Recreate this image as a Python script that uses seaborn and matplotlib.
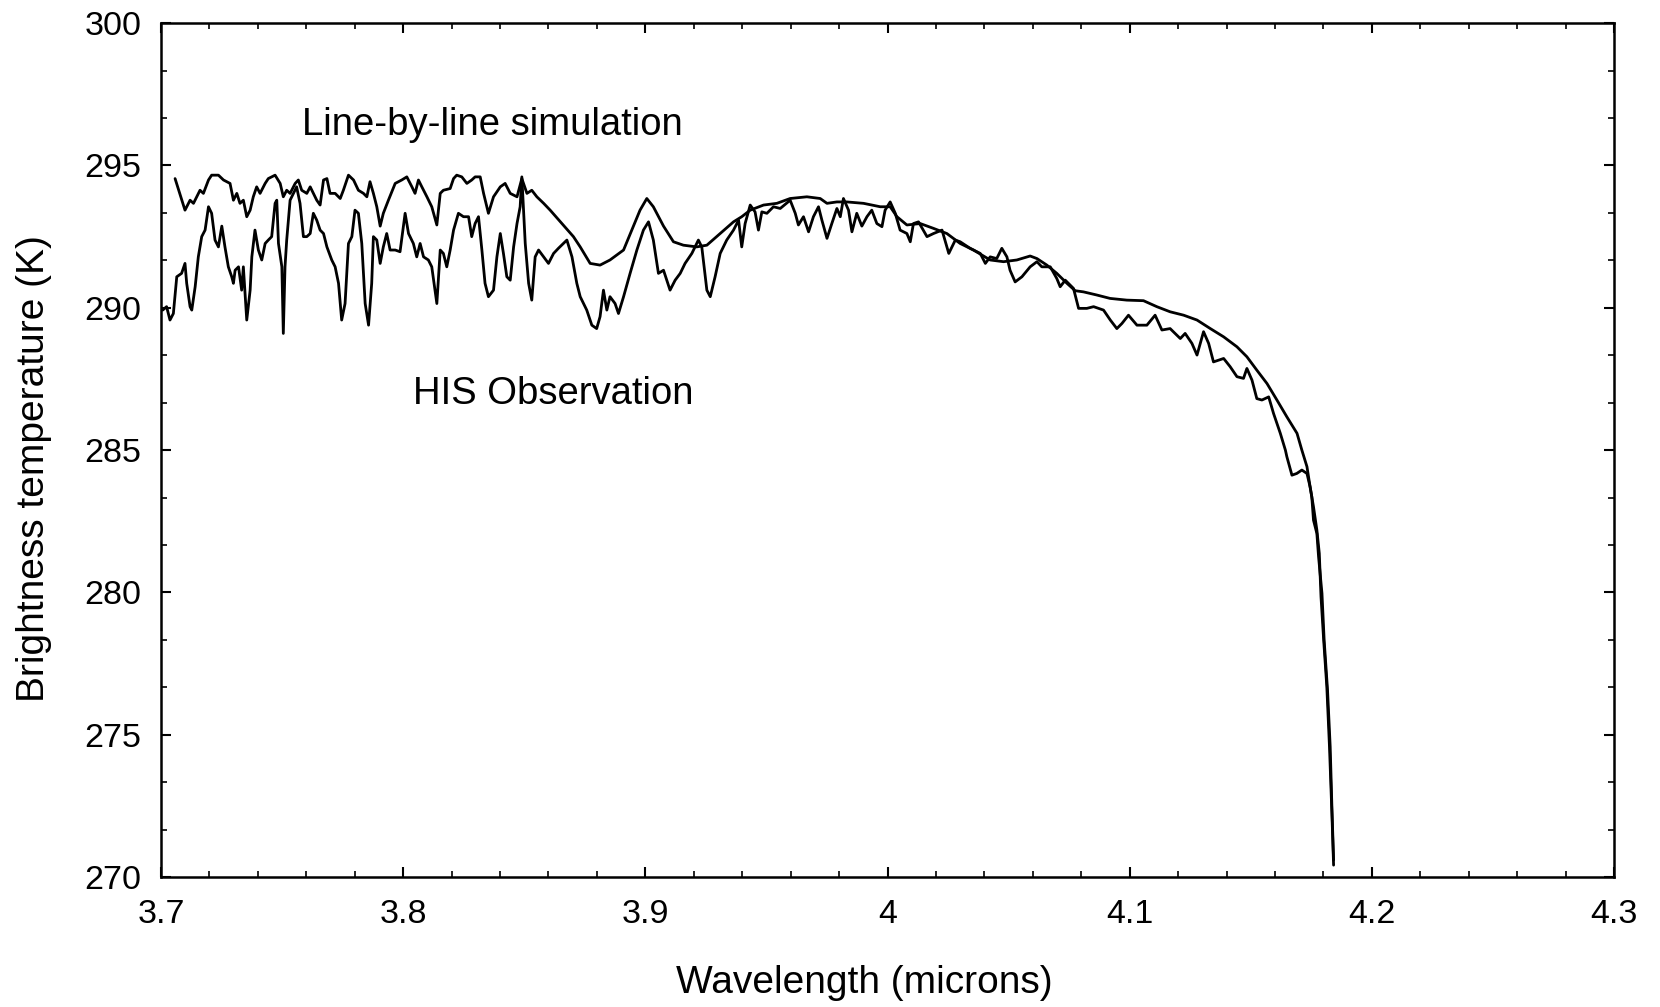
import seaborn as sns
import matplotlib.pyplot as plt
import pandas as pd
from matplotlib.ticker import MultipleLocator

# Line-by-line simulation
sim_wl = [3.7058, 3.7099, 3.7120, 3.7134, 3.7161, 3.7175, 3.7196, 3.7209, 3.7237, 3.7258,
          3.7285, 3.7299, 3.7313, 3.7326, 3.7340, 3.7354, 3.7368, 3.7381, 3.7395, 3.7409,
          3.7430, 3.7443, 3.7471, 3.7492, 3.7505, 3.7519, 3.7533, 3.7554, 3.7567, 3.7581,
          3.7602, 3.7616, 3.7643, 3.7657, 3.7671, 3.7685, 3.7698, 3.7719, 3.7740, 3.7753,
          3.7774, 3.7795, 3.7815, 3.7836, 3.7850, 3.7863, 3.7877, 3.7891, 3.7905, 3.7918,
          3.7939, 3.7967, 3.7994, 3.8015, 3.8036, 3.8049, 3.8063, 3.8077, 3.8098, 3.8118,
          3.8139, 3.8153, 3.8166, 3.8194, 3.8208, 3.8221, 3.8242, 3.8263, 3.8283, 3.8297,
          3.8318, 3.8332, 3.8352, 3.8373, 3.8401, 3.8421, 3.8442, 3.8470, 3.8490, 3.8511,
          3.8531, 3.8552, 3.8580, 3.8607,
          3.8703, 3.8731, 3.8772, 3.8813, 3.8854, 3.8910, 3.8951, 3.8978, 3.9006, 3.9033,
          3.9075, 3.9116, 3.9157, 3.9212, 3.9254, 3.9309, 3.9364, 3.9398, 3.9433, 3.9488,
          3.9543, 3.9598, 3.9667, 3.9722, 3.9750, 3.9791, 3.9832, 3.9901, 3.9970, 4.0011,
          4.0039, 4.0080, 4.0135, 4.0190, 4.0245, 4.0300, 4.0355,
          4.0424, 4.0479, 4.0534, 4.0589, 4.0617, 4.0658, 4.0699, 4.0741, 4.0775, 4.0809,
          4.0864, 4.0919, 4.0988, 4.1057, 4.1112, 4.1167, 4.1223, 4.1278, 4.1333, 4.1388,
          4.1443, 4.1484, 4.1525, 4.1567, 4.1608, 4.1649, 4.1691, 4.1711,
          4.1732, 4.1745, 4.1759, 4.1773, 4.1783, 4.1790, 4.1801, 4.1814, 4.1825, 4.1835,
          4.1842]
sim_bt = [294.54, 293.43, 293.78, 293.67, 294.13, 294.02, 294.49, 294.66, 294.66, 294.49,
          294.37, 293.78, 294.02, 293.67, 293.78, 293.20, 293.43, 293.90, 294.25, 294.02,
          294.37, 294.54, 294.66, 294.37, 293.90, 294.13, 294.02, 294.37, 294.49, 294.13,
          294.02, 294.25, 293.78, 293.61, 294.49, 294.54, 294.02, 294.02, 293.84, 294.13,
          294.66, 294.49, 294.13, 294.02, 293.90, 294.43, 294.02, 293.55, 292.87, 293.32,
          293.78, 294.37, 294.49, 294.60, 294.25, 294.02, 294.49, 294.25, 293.90, 293.55,
          292.91, 294.02, 294.13, 294.19, 294.54, 294.66, 294.60, 294.37, 294.49, 294.60,
          294.60, 294.02, 293.32, 293.90, 294.25, 294.37, 294.02, 293.90, 294.54, 294.02,
          294.13, 293.90, 293.67, 293.43,
          292.50, 292.14, 291.56, 291.50, 291.68, 292.03, 292.87, 293.43, 293.84, 293.55,
          292.87, 292.32, 292.20, 292.14, 292.20, 292.61, 293.02, 293.20, 293.43, 293.61,
          293.67, 293.84, 293.90, 293.84, 293.67, 293.72, 293.72, 293.67, 293.55, 293.55,
          293.20, 292.91, 292.96, 292.79, 292.61, 292.26, 292.03,
          291.68, 291.62, 291.68, 291.82, 291.73, 291.50, 291.21, 290.86, 290.60, 290.56,
          290.45, 290.33, 290.27, 290.25, 290.04, 289.86, 289.74, 289.57, 289.27, 288.98,
          288.63, 288.28, 287.81, 287.34, 286.76, 286.17, 285.59, 285.00,
          284.42, 283.71, 283.01, 282.19, 281.37, 279.85, 278.33, 276.69, 274.58, 272.24,
          270.42]

# HIS observation
his_wl = [3.7007, 3.7023, 3.7037, 3.7051, 3.7065, 3.7085, 3.7099, 3.7106, 3.7120, 3.7127,
          3.7141, 3.7154, 3.7168, 3.7182, 3.7196, 3.7209, 3.7223, 3.7237, 3.7251, 3.7264,
          3.7278, 3.7292, 3.7299, 3.7306, 3.7320, 3.7333, 3.7340, 3.7354, 3.7368, 3.7375,
          3.7388, 3.7402, 3.7416, 3.7430, 3.7443, 3.7457, 3.7471, 3.7478, 3.7485, 3.7499,
          3.7505, 3.7512, 3.7519, 3.7533, 3.7547, 3.7560, 3.7574, 3.7588, 3.7602, 3.7616,
          3.7629, 3.7643, 3.7657, 3.7671, 3.7685, 3.7705, 3.7719, 3.7733, 3.7746, 3.7760,
          3.7774, 3.7788, 3.7801, 3.7815, 3.7829, 3.7843, 3.7857, 3.7870, 3.7877, 3.7891,
          3.7905, 3.7918, 3.7932, 3.7946, 3.7967, 3.7987, 3.8008, 3.8022, 3.8042, 3.8056,
          3.8070, 3.8084, 3.8104, 3.8118, 3.8139, 3.8153, 3.8166, 3.8180, 3.8194, 3.8208,
          3.8228, 3.8249, 3.8270, 3.8283, 3.8297, 3.8311, 3.8325, 3.8338, 3.8352, 3.8373,
          3.8387, 3.8401, 3.8414, 3.8428, 3.8442, 3.8456, 3.8470, 3.8483, 3.8490, 3.8504,
          3.8518, 3.8531, 3.8545, 3.8559, 3.8580, 3.8600, 3.8621, 3.8641, 3.8676, 3.8697,
          3.8717, 3.8731,
          3.8758, 3.8779, 3.8799, 3.8813, 3.8827, 3.8841, 3.8854, 3.8875, 3.8889, 3.8910,
          3.8937, 3.8965, 3.8992, 3.9013, 3.9033, 3.9054, 3.9075, 3.9102, 3.9123, 3.9144,
          3.9164, 3.9192, 3.9219, 3.9233, 3.9254, 3.9268, 3.9288, 3.9309, 3.9336, 3.9364,
          3.9385, 3.9398, 3.9412, 3.9433, 3.9453, 3.9467, 3.9481, 3.9502, 3.9529, 3.9557,
          3.9598, 3.9619, 3.9632, 3.9653, 3.9674, 3.9694, 3.9715, 3.9729, 3.9750, 3.9770,
          3.9791, 3.9805, 3.9818, 3.9839, 3.9853, 3.9873, 3.9894, 3.9915, 3.9935, 3.9956,
          3.9977, 3.9990, 4.0011, 4.0032, 4.0052, 4.0080, 4.0094, 4.0107, 4.0128, 4.0163,
          4.0190, 4.0225, 4.0253, 4.0280, 4.0300, 4.0341, 4.0383, 4.0404, 4.0424,
          4.0451, 4.0472, 4.0493, 4.0506, 4.0527, 4.0555, 4.0589, 4.0617, 4.0637, 4.0672,
          4.0699, 4.0713, 4.0734, 4.0768, 4.0789, 4.0823, 4.0851, 4.0892, 4.0920, 4.0947,
          4.0968, 4.0995, 4.1030, 4.1071, 4.1105, 4.1133, 4.1167, 4.1209, 4.1229, 4.1257,
          4.1278, 4.1305, 4.1326, 4.1346, 4.1388, 4.1415, 4.1443, 4.1470, 4.1484, 4.1505,
          4.1525, 4.1546, 4.1574, 4.1594, 4.1622, 4.1643,
          4.1649, 4.1670, 4.1690, 4.1711, 4.1732, 4.1745, 4.1752, 4.1759, 4.1773, 4.1780,
          4.1794, 4.1803, 4.1817, 4.1828, 4.1835, 4.1842]
his_bt = [289.92, 290.04, 289.57, 289.80, 291.09, 291.21, 291.56, 290.86, 290.04, 289.92,
          290.74, 291.79, 292.50, 292.73, 293.55, 293.32, 292.38, 292.14, 292.87, 292.14,
          291.44, 291.09, 290.86, 291.32, 291.44, 290.62, 291.44, 289.57, 290.62, 291.79,
          292.73, 292.03, 291.68, 292.26, 292.38, 292.50, 293.67, 293.78, 292.26, 291.44,
          289.10, 291.44, 292.38, 293.78, 294.02, 294.25, 293.67, 292.50, 292.50, 292.61,
          293.32, 293.08, 292.73, 292.61, 292.14, 291.68, 291.44, 290.86, 289.57, 290.15,
          292.26, 292.50, 293.43, 293.32, 292.26, 290.15, 289.39, 290.86, 292.50, 292.38,
          291.56, 292.14, 292.61, 292.03, 292.03, 291.97, 293.32, 292.61, 292.26, 291.79,
          292.26, 291.79, 291.68, 291.44, 290.15, 292.03, 291.91, 291.44, 292.03, 292.73,
          293.32, 293.20, 293.20, 292.50, 292.96, 293.20, 292.03, 290.86, 290.39, 290.62,
          291.79, 292.61, 291.91, 291.09, 290.97, 292.14, 292.96, 293.55, 294.60, 292.26,
          290.86, 290.27, 291.79, 292.03, 291.79, 291.56, 291.91, 292.09, 292.38, 291.79,
          290.86, 290.39,
          289.92, 289.39, 289.27, 289.69, 290.62, 289.92, 290.39, 290.15, 289.80, 290.39,
          291.21, 292.03, 292.73, 293.02, 292.38, 291.21, 291.32, 290.62, 290.97, 291.21,
          291.56, 291.91, 292.38, 292.14, 290.62, 290.39, 291.09, 291.91, 292.38, 292.73,
          293.08, 292.14, 292.96, 293.61, 293.37, 292.73, 293.37, 293.32, 293.55, 293.49,
          293.78, 293.32, 292.91, 293.20, 292.67, 293.20, 293.55, 293.08, 292.44, 292.96,
          293.49, 293.20, 293.84, 293.43, 292.67, 293.32, 292.87, 293.20, 293.43, 292.96,
          292.85, 293.43, 293.72, 293.32, 292.73, 292.61, 292.32, 292.96, 293.02, 292.50,
          292.61, 292.73, 291.91, 292.38, 292.32, 292.09, 291.91, 291.56, 291.79,
          291.73, 292.09, 291.79, 291.32, 290.91, 291.09, 291.44, 291.62, 291.44, 291.44,
          291.03, 290.74, 290.97, 290.68, 289.98, 289.98, 290.04, 289.92, 289.57, 289.27,
          289.45, 289.74, 289.39, 289.39, 289.74, 289.22, 289.27, 288.92, 289.10, 288.75,
          288.34, 289.16, 288.75, 288.10, 288.22, 287.93, 287.58, 287.52, 287.87, 287.46,
          286.81, 286.76, 286.87, 286.29, 285.59, 285.00,
          284.77, 284.12, 284.18, 284.30, 284.18, 283.71, 283.36, 282.54, 282.07, 281.25,
          279.97, 278.33, 276.57, 274.58, 272.47, 270.60]

sim = pd.DataFrame({'wavelength': sim_wl, 'bt': sim_bt})
his = pd.DataFrame({'wavelength': his_wl, 'bt': his_bt})

sns.set_style('ticks')
plt.rcParams['font.family'] = ['Liberation Sans', 'DejaVu Sans']
plt.rcParams['text.color'] = 'black'
plt.rcParams['axes.labelcolor'] = 'black'
plt.rcParams['xtick.color'] = 'black'
plt.rcParams['ytick.color'] = 'black'

fig = plt.figure(figsize=(16.6, 10.07), dpi=100)
ax = fig.add_axes([0.097, 0.129, 0.8753, 0.848])

sns.lineplot(data=sim, x='wavelength', y='bt', estimator=None, sort=False,
             color='black', lw=2.0, ax=ax)
sns.lineplot(data=his, x='wavelength', y='bt', estimator=None, sort=False,
             color='black', lw=2.0, ax=ax)

ax.set_xlim(3.7, 4.3)
ax.set_ylim(270, 300)
ax.xaxis.set_major_locator(MultipleLocator(0.1))
ax.xaxis.set_minor_locator(MultipleLocator(0.02))
ax.yaxis.set_major_locator(MultipleLocator(5))
ax.yaxis.set_minor_locator(MultipleLocator(5 / 3))
ax.set_xticks([3.7, 3.8, 3.9, 4.0, 4.1, 4.2, 4.3])
ax.set_xticklabels(['3.7', '3.8', '3.9', '4', '4.1', '4.2', '4.3'])

ax.tick_params(which='both', direction='in', top=True, right=True, colors='black')
ax.tick_params(which='major', length=7, width=1.5, labelsize=24.5)
ax.tick_params(which='minor', length=4, width=1.2)
ax.tick_params(axis='x', which='major', pad=16)
ax.tick_params(axis='y', which='major', pad=14)
for s in ax.spines.values():
    s.set_linewidth(1.8)
    s.set_color('black')

ax.set_xlabel('Wavelength (microns)', fontsize=28)
ax.set_ylabel('Brightness temperature (K)', fontsize=28)
ax.xaxis.set_label_coords(0.484, -0.103)
ax.yaxis.set_label_coords(-0.075, 0.478)

ax.text(3.8367, 296.42, 'Line-by-line simulation', fontsize=27.5, ha='center', va='center')
ax.text(3.8619, 286.97, 'HIS Observation', fontsize=27.5, ha='center', va='center')

fig.savefig('out.png', dpi=100)
